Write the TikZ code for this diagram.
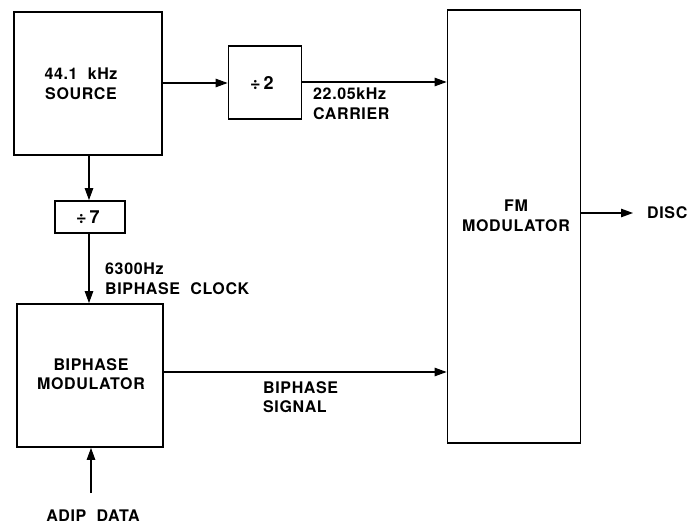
\documentclass[tikz,border=0pt]{standalone}
\usepackage{fontspec}
\setmainfont{TeX Gyre Heros}[LetterSpace=4]
\usetikzlibrary{arrows.meta}
\begin{document}
\begin{tikzpicture}[x=1pt,y=-1pt,
  blk/.style={draw,line width=1.8pt,inner sep=0pt},
  txt/.style={font=\fontsize{16}{19.5}\selectfont\bfseries,align=center,inner sep=0pt},
  lbl/.style={font=\fontsize{16}{19.5}\selectfont\bfseries,align=left,inner sep=0pt,anchor=north west},
  conn/.style={line width=1.1pt,-{Triangle[length=12pt,width=8.5pt]}}]
\useasboundingbox (0,0) rectangle (689,525);
\node[blk,minimum width=148pt,minimum height=143pt] (src) at (88,83.5) {};
\node[txt] (srct) at (81,84) {44.1\ \ kHz\\SOURCE};
\node[blk,minimum width=73pt,minimum height=73pt] (div2) at (265,82.5) {};
\node[txt] (div2t) at (262,83) {\fontsize{18}{19}\selectfont ÷\,2};
\node[blk,minimum width=133pt,minimum height=433pt] (fm) at (514,226.5) {};
\node[txt] (fmt) at (516,216) {FM\\MODULATOR};
\node[blk,minimum width=70pt,minimum height=32pt] (div7) at (90,217) {};
\node[txt] (div7t) at (88,217) {\fontsize{18}{19}\selectfont ÷\,7};
\node[blk,minimum width=146pt,minimum height=143pt] (bph) at (90,375.5) {};
\node[txt] (bpht) at (91,374) {BIPHASE\\MODULATOR};
\draw[conn] (src.east |- 0,83) -- (div2.west |- 0,83);
\draw[conn] (div2.east |- 0,82) -- (fm.west |- 0,82);
\draw[conn] (89,0 |- src.south) -- (89,0 |- div7.north);
\draw[conn] (89,0 |- div7.south) -- (89,0 |- bph.north);
\draw[conn] (bph.east |- 0,372) -- (fm.west |- 0,372);
\coordinate (discend) at (633,213);
\draw[conn] (fm.east |- discend) -- (discend);
\node[txt,anchor=west] (disc) at (647,213) {DISC};
\coordinate (adip) at (91,493);
\draw[conn] (adip) -- (adip |- bph.south);
\node[txt] (adipt) at (93,516) {ADIP\ \ DATA};
\node[lbl] (carr) at (313,88) {22.05kHz\\CARRIER};
\node[lbl] (clk) at (105,263) {6300Hz\\BIPHASE\ \ CLOCK};
\node[lbl] (sig) at (263,381) {BIPHASE\\SIGNAL};
\end{tikzpicture}
\end{document}
